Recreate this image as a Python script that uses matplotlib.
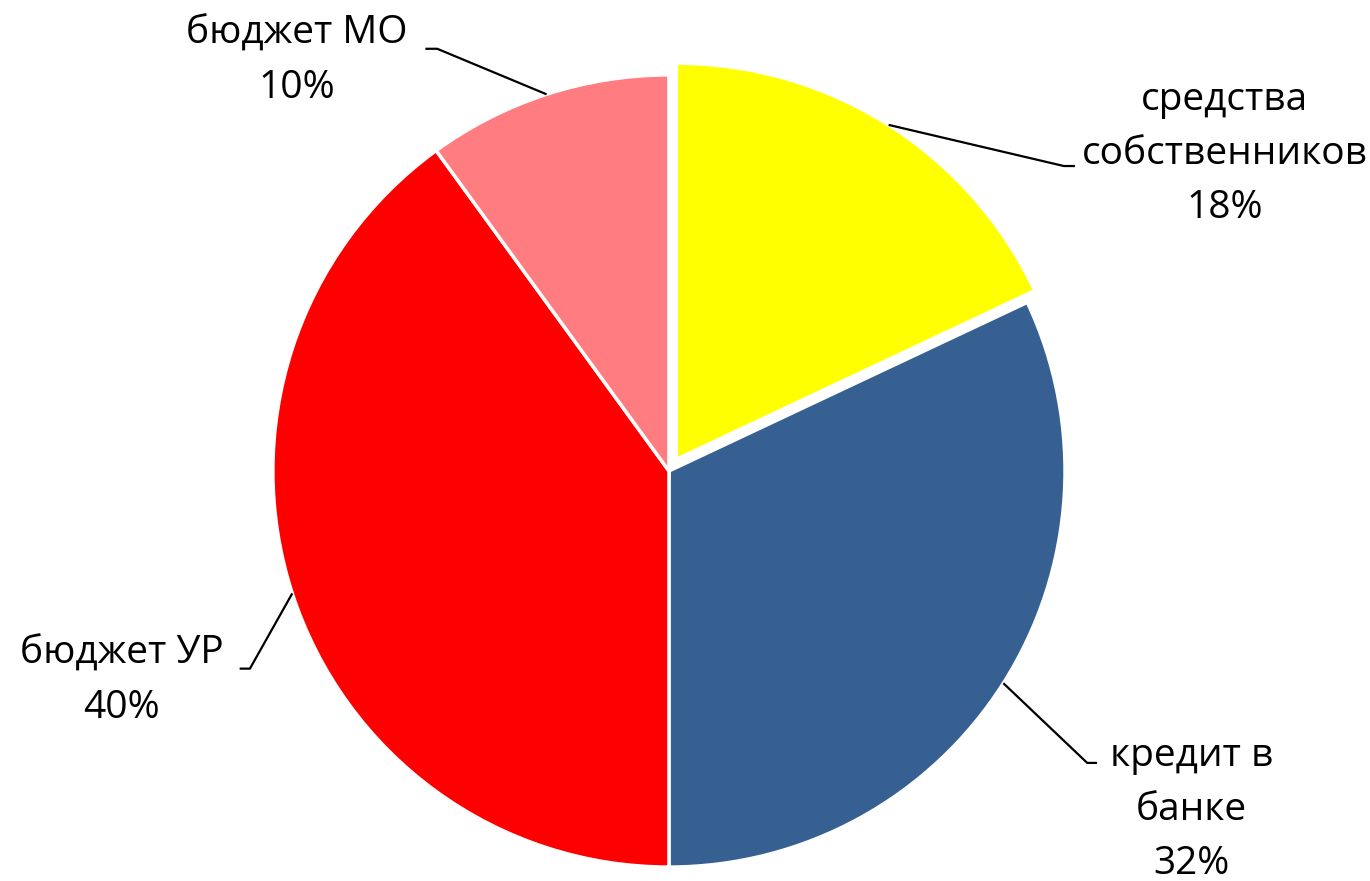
import numpy as np
import matplotlib.pyplot as plt

plt.rcParams['font.family'] = ['Open Sans', 'DejaVu Sans']

# slices, clockwise from 12 o'clock
labels = ["средства\nсобственников", "кредит в\nбанке", "бюджет УР", "бюджет МО"]
shares = [18, 32, 40, 10]
colors = ["#FFFF00", "#376092", "#FF0000", "#FF7C80"]
explode = [0.035, 0, 0, 0]

# label layout (data coords, pie radius = 1): text centre, elbow, end of short tick
text_pos = [(1.403, 0.800), (1.319, -0.855), (-1.382, -0.530), (-0.939, 1.036)]
elbow_pos = [(0.997, 0.770), (1.056, -0.737), (-1.058, -0.499), (-0.585, 1.066)]
tick_end = [(1.025, 0.770), (1.081, -0.737), (-1.084, -0.499), (-0.615, 1.066)]

fig = plt.figure(figsize=(13.7, 8.81), dpi=100)
ax = fig.add_axes([0, 0, 1, 1])
wedges, _ = ax.pie(shares, colors=colors, explode=explode, startangle=90,
                   counterclock=False,
                   wedgeprops=dict(edgecolor="white", linewidth=2.5))

for i, w in enumerate(wedges):
    mid = np.deg2rad((w.theta1 + w.theta2) / 2)
    cx, cy = w.center
    ax_x = cx + w.r * np.cos(mid)
    ax_y = cy + w.r * np.sin(mid)
    ex, ey = elbow_pos[i]
    tx, ty = tick_end[i]
    ax.plot([ax_x, ex, tx], [ax_y, ey, ty], color="black", lw=1.6,
            solid_capstyle="butt")
    ax.text(text_pos[i][0], text_pos[i][1], f"{labels[i]}\n{shares[i]}%",
            ha="center", va="center", fontsize=28, linespacing=1.55,
            color="black")

ax.set_xlim(-1.689, 1.770)
ax.set_ylim(-1.035, 1.189)
ax.set_aspect("equal")
ax.axis("off")

plt.savefig("out.png", dpi=100, facecolor="white")
